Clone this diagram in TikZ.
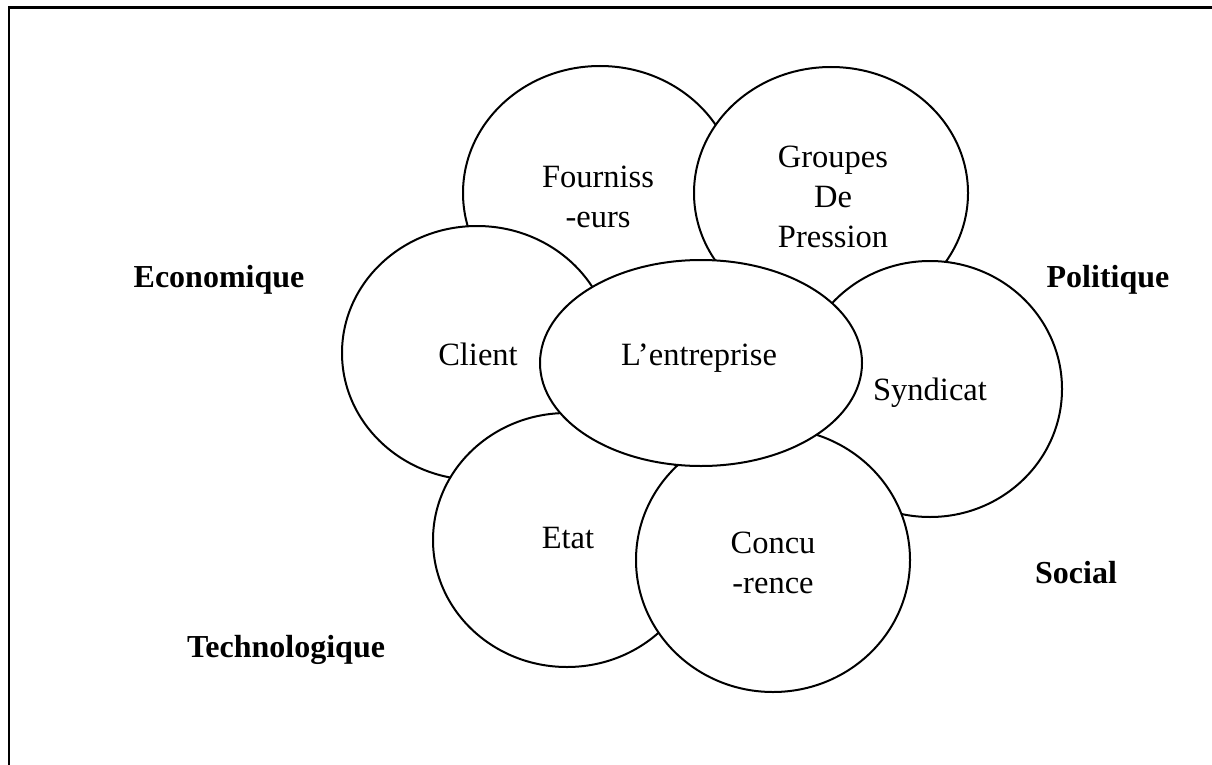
\documentclass[tikz,border=0pt]{standalone}
\usepackage{fontspec}
\setmainfont{Liberation Serif}
\usetikzlibrary{shapes.geometric}
\begin{document}
\begin{tikzpicture}[x=1pt,y=-1pt,
  bubble/.style={ellipse, draw, fill=white, line width=2pt, inner sep=0pt},
  word/.style={font=\fontsize{32.5}{40}\selectfont, inner sep=0pt, align=center, anchor=base},
  side/.style={font=\fontsize{32}{40}\selectfont\bfseries, inner sep=0pt, anchor=base}]
\useasboundingbox (0,0) rectangle (1212,765);
% open frame: left and top edges
\coordinate (fb) at (9,765);
\coordinate (fc) at (9,7.5);
\coordinate (fr) at (1212,7.5);
\draw[line width=2.5pt, line join=miter] (fb) -- (fc) -- (fr);

% outer bubbles, back to front
\node[bubble, minimum width=274pt, minimum height=254pt] (four) at (600,193) {};
\node[bubble, minimum width=274pt, minimum height=252pt] (grp)  at (831,193) {};
\node[bubble, minimum width=264pt, minimum height=256pt] (syn)  at (930,389) {};
\node[bubble, minimum width=270pt, minimum height=254pt] (cli)  at (477,353) {};
\node[bubble, minimum width=268pt, minimum height=254pt] (eta)  at (567,540) {};
\node[bubble, minimum width=274pt, minimum height=264pt] (conc) at (773,560) {};
% central bubble
\node[bubble, minimum width=322pt, minimum height=206pt] (ent)  at (701,363) {};

% bubble labels (multi-line nodes sit on the baseline of their last line)
\node[word] (tfour) at (598,227) {Fourniss\\-eurs};
\node[word] (tgrp)  at (833,247) {Groupes\\De\\Pression};
\node[word] (tsyn)  at (930,400) {Syndicat};
\node[word] (tcli)  at (478,365) {Client};
\node[word] (teta)  at (568,548) {Etat};
\node[word] (tconc) at (773,593) {Concu\\-rence};
\node[word] (tent)  at (699,365) {L’entreprise};

% environment labels
\node[side] (eco) at (219,287) {Economique};
\node[side] (pol) at (1108,287) {Politique};
\node[side] (soc) at (1076,583) {Social};
\node[side] (tec) at (286,657) {Technologique};
\end{tikzpicture}
\end{document}
